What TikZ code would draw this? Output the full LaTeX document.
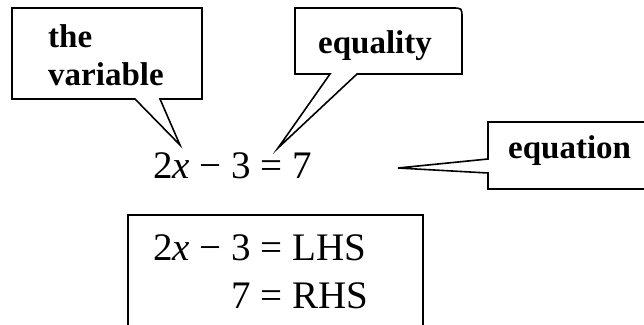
\documentclass[tikz,border=0pt]{standalone}
\usepackage{fontspec}
\setmainfont{Liberation Serif}
\tikzset{
  callout/.style={line width=1.6pt, line join=miter},
  sidebox/.style={line width=2.2pt},
  lbl/.style={anchor=base west, inner sep=0pt, font=\fontsize{33}{38}\selectfont\bfseries},
  eqn/.style={anchor=base west, inner sep=0pt, font=\fontsize{39}{48}\selectfont},
}
\begin{document}
\begin{tikzpicture}[x=1pt,y=-1pt]
\clip (0,0) rectangle (644,324);
% callout tips
\coordinate (vartip) at (180,145);
\coordinate (eqtip) at (278,148);
\coordinate (eqntip) at (398,168);
% the variable
\draw[callout] (12,8) -- (202,8) -- (202,99) -- (160,99) -- (vartip) -- (135,99) -- (12,99) -- cycle;
\node[lbl] (the) at (48,47) {the};
\node[lbl] (variable) at (48,85) {variable};
% equality
\draw[callout] (295,74) -- (295,8) -- (452,8) .. controls (462,8) .. (462,18) -- (462,74) -- (357,74) -- (eqtip) -- (330,74) -- cycle;
\node[lbl] (equality) at (318,53) {equality};
% equation
\draw[callout] (660,122) -- (488,122) -- (488,159) -- (eqntip) -- (488,173) -- (488,189) -- (660,189);
\node[lbl] (equationlbl) at (508,158) {equation};
% the equation and its sides
\node[eqn] (equation) at (153,178) {2\textit{x} − 3 = 7};
\draw[sidebox] (128,340) -- (128,215) -- (423,215) -- (423,340);
\node[eqn] (sides) at (153,260) {\begin{tabular}[t]{@{}r@{\ =\ }l@{}}2\textit{x} − 3 & LHS\\ 7 & RHS\end{tabular}};
\end{tikzpicture}
\end{document}
